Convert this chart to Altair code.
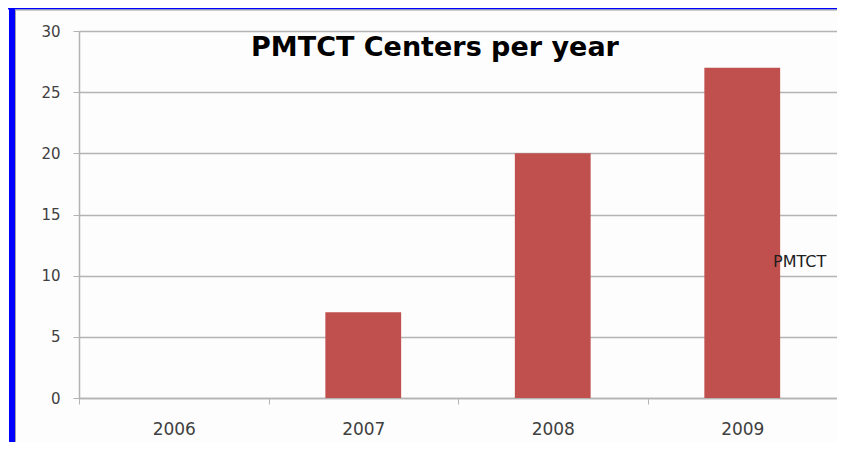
import altair as alt
import pandas as pd

# Data
years = ["2006", "2007", "2008", "2009"]
centers = [0, 7, 20, 27]
series_name = "PMTCT"
chart_title = "PMTCT Centers per year"
y_ticks = [0, 5, 10, 15, 20, 25, 30]

df = pd.DataFrame({"year": years, "centers": centers, "series": [series_name] * len(years)})

W, H = 758, 367
FONT = "DejaVu Sans"
LABEL_COLOR = "#404040"
GRID_COLOR = "#b3b3b3"

base = alt.Chart(df)

x_enc = alt.X(
    "year:N",
    sort=years,
    title=None,
    scale=alt.Scale(paddingInner=0, paddingOuter=0),
    axis=alt.Axis(
        labelAngle=0,
        labelFontSize=17,
        labelFont=FONT,
        labelColor=LABEL_COLOR,
        labelPadding=17,
        tickBand="extent",
        tickSize=6,
        tickColor=GRID_COLOR,
        domainColor=GRID_COLOR,
        domainWidth=1.5,
        grid=False,
    ),
)

bars = base.mark_bar(color="#C0504D", width=alt.RelativeBandSize(0.4)).encode(
    x=x_enc,
    y=alt.Y(
        "centers:Q",
        title=None,
        scale=alt.Scale(domain=[0, 30], nice=False),
        axis=alt.Axis(
            values=y_ticks,
            labelFontSize=15,
            labelFont=FONT,
            labelColor=LABEL_COLOR,
            labelPadding=13,
            tickSize=6,
            tickColor=GRID_COLOR,
            domainColor=GRID_COLOR,
            domainWidth=1.5,
            gridColor=GRID_COLOR,
            gridWidth=1.3,
        ),
    ),
)

legend_df = pd.DataFrame({"series": [series_name]})
legend_text = alt.Chart(legend_df).mark_text(
    align="left", baseline="alphabetic", fontSize=16, font=FONT, color="#202020"
).encode(x=alt.value(694), y=alt.value(236), text="series:N")

title_df = pd.DataFrame({"t": [chart_title]})
title_text = alt.Chart(title_df).mark_text(
    align="center", baseline="alphabetic", fontSize=27, font=FONT, fontWeight="bold", color="#000000"
).encode(x=alt.value(356), y=alt.value(25), text="t:N")

# Frame decoration (blue border with thin gray inner line)
blue_left = alt.Chart(legend_df).mark_rule(color="#0000ff", strokeWidth=6).encode(
    x=alt.value(-67), y=alt.value(-23), y2=alt.value(H + 44)
)
blue_top = alt.Chart(legend_df).mark_rule(color="#0000ff", strokeWidth=3).encode(
    x=alt.value(-71), x2=alt.value(W), y=alt.value(-23)
)
gray_left = alt.Chart(legend_df).mark_rule(color="#a0a0a0", strokeWidth=1).encode(
    x=alt.value(-63.5), y=alt.value(-21.5), y2=alt.value(H + 44)
)
gray_top = alt.Chart(legend_df).mark_rule(color="#a0a0a0", strokeWidth=1).encode(
    x=alt.value(-63.5), x2=alt.value(W), y=alt.value(-21)
)

chart = (
    alt.layer(bars, title_text, legend_text, blue_left, blue_top, gray_left, gray_top)
    .properties(
        width=W,
        height=H,
        autosize=alt.AutoSizeParams(type="none"),
        padding={"left": 71, "top": 23, "right": 0, "bottom": 44},
        background="#fdfdfd",
    )
    .configure_view(stroke=None)
)

chart.save("out.html", embed_options={"renderer": "svg", "actions": False})
